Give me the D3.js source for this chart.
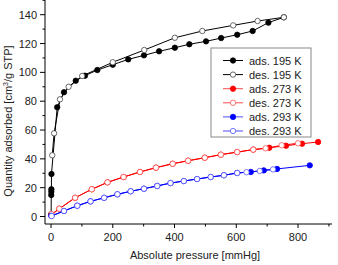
<!DOCTYPE html>
<html><head><meta charset="utf-8">
<script src="https://cdn.jsdelivr.net/npm/d3@7"></script>
<style>body{margin:0;background:#fff}svg{display:block}text{font-family:Arial,"Liberation Sans",sans-serif;}</style>
</head><body>
<svg id="c" width="338" height="265"></svg>
<script>
const xTicks = [0, 200, 400, 600, 800];
const yTicks = [0, 20, 40, 60, 80, 100, 120, 140];
const seriesNames = ["ads. 195 K", "des. 195 K", "ads. 273 K", "des. 273 K", "ads. 293 K", "des. 293 K"];
const seriesColors = ["#000000", "#000000", "#ff0000", "#ff0000", "#0000ff", "#0000ff"];
const seriesFilled = [true, false, true, false, true, false];

const ads195 = [[0.3,1.5],[0.8,14.9],[1,17.2],[1.2,18.9],[1.5,29.5],[20,75.8],[42,86.2],[80,94.2],[110,97.7],[150,101.6],[200,105.3],[250,109],[301,111.8],[350,114.6],[401,117.1],[448,119.5],[502,121.5],[551,123.8],[603,126.1],[653,128.7],[704,134.5],[754,138.2]];
const des195 = [[754,138.2],[669,135.6],[590,132.6],[490,128.7],[401,124],[302,115.5],[200,107],[101,97.5],[57,90],[29,81.3],[10,57.7],[4,42.5]];
const ads273 = [[1,1.0],[27,5.4],[78,13],[132,18.9],[183,23.7],[235,27.4],[288,30.9],[340,33.9],[394,36.6],[444,38.7],[498,40.8],[550,42.9],[603,44.7],[655,46.4],[707,47.7],[761,49.1],[813,50.5],[865,51.7]];
const des273 = [[800,50.8],[747,49.4],[695,47.3],[655,46.4],[603,44.7],[550,42.9],[498,40.8],[444,38.7],[394,36.6],[340,33.9],[288,30.9],[235,27.4],[183,23.7],[132,18.9],[78,13],[27,5.4],[2,1.7]];
const ads293 = [[1,0.5],[42,3.8],[85,7.5],[128,10.5],[172,13],[215,15.4],[258,17.5],[301,19.3],[344,21.2],[387,23.2],[430,24.6],[473,26],[517,27.4],[560,28.6],[603,30.2],[647,30.9],[689,32],[732,33],[838,35.5]];
const des293 = [[719,32.7],[676,31.6],[633,30.7],[603,30.2],[560,28.6],[517,27.4],[473,26],[430,24.6],[387,23.2],[344,21.2],[301,19.3],[258,17.5],[215,15.4],[172,13],[128,10.5],[85,7.5],[42,3.8],[2,0.3]];
const allSeries = [ads195, des195, ads273, des273, ads293, des293];

const svg = d3.select("#c");
const x = d3.scaleLinear().domain([-19.5, 910]).range([45, 332]);
const y = d3.scaleLinear().domain([-5.2, 150.2]).range([224, 0]);

// axes
const xAxis = svg.append("g").attr("transform", "translate(0,224)");
xAxis.append("line").attr("x1", 45).attr("x2", 332).attr("stroke", "#000");
const xMinor = d3.range(100, 1000, 200);
xAxis.selectAll(".xt").data(xTicks).enter().append("line")
  .attr("x1", d => x(d)).attr("x2", d => x(d)).attr("y1", 0).attr("y2", 4).attr("stroke", "#000");
xAxis.selectAll(".xm").data(xMinor).enter().append("line")
  .attr("x1", d => x(d)).attr("x2", d => x(d)).attr("y1", 0).attr("y2", 2.5).attr("stroke", "#000");
xAxis.selectAll(".xl").data(xTicks).enter().append("text")
  .attr("x", d => x(d)).attr("y", 17).attr("text-anchor", "middle").attr("font-size", 11).attr("fill", "#222").text(d => d);

const yAxis = svg.append("g");
yAxis.append("line").attr("x1", 45).attr("x2", 45).attr("y1", 0).attr("y2", 224).attr("stroke", "#000");
const yMinor = d3.range(10, 160, 20);
yAxis.selectAll(".yt").data(yTicks).enter().append("line")
  .attr("x1", 40).attr("x2", 45).attr("y1", d => y(d)).attr("y2", d => y(d)).attr("stroke", "#000");
yAxis.selectAll(".ym").data(yMinor).enter().append("line")
  .attr("x1", 42.5).attr("x2", 45).attr("y1", d => y(d)).attr("y2", d => y(d)).attr("stroke", "#000");
yAxis.selectAll(".yl").data(yTicks).enter().append("text")
  .attr("x", 37).attr("y", d => y(d) + 4).attr("text-anchor", "end").attr("font-size", 11).attr("fill", "#222").text(d => d);

// axis titles
svg.append("text").attr("x", 195).attr("y", 259).attr("text-anchor", "middle").attr("font-size", 11).attr("fill", "#222")
  .text("Absolute pressure [mmHg]");
const yt = svg.append("text").attr("transform", "translate(12,121) rotate(-90)").attr("text-anchor", "middle")
  .attr("font-size", 11).attr("fill", "#222");
yt.append("tspan").text("Quantity adsorbed [cm");
yt.append("tspan").attr("font-size", 7).attr("dy", -4).text("3");
yt.append("tspan").attr("dy", 4).text("/g STP]");

// series
const line = d3.line().x(d => x(d[0])).y(d => y(d[1]));
const plot = svg.append("g");
allSeries.forEach((data, i) => {
  const g = plot.append("g");
  g.append("path").attr("d", line(data)).attr("fill", "none").attr("stroke", seriesColors[i]).attr("stroke-width", 1);
  g.selectAll("circle").data(data).enter().append("circle")
    .attr("cx", d => x(d[0])).attr("cy", d => y(d[1])).attr("r", 2.7)
    .attr("fill", seriesFilled[i] ? seriesColors[i] : "#fff")
    .attr("stroke", seriesFilled[i] ? seriesColors[i] : (i === 5 ? "#5555ff" : (i === 3 ? "#ff5555" : "#444")))
    .attr("stroke-width", 0.8);
});

// legend
const lg = svg.append("g");
lg.append("rect").attr("x", 211).attr("y", 48).attr("width", 100).attr("height", 89)
  .attr("fill", "#fff").attr("stroke", "#888").attr("stroke-width", 1);
seriesNames.forEach((name, i) => {
  const yy = 60.5 + i * 14.1;
  lg.append("line").attr("x1", 223).attr("x2", 243).attr("y1", yy).attr("y2", yy)
    .attr("stroke", seriesColors[i]).attr("stroke-width", 1).attr("stroke-opacity", i >= 2 ? 0.7 : 1);
  lg.append("circle").attr("cx", 233).attr("cy", yy).attr("r", 2.7)
    .attr("fill", seriesFilled[i] ? seriesColors[i] : "#fff")
    .attr("stroke", seriesFilled[i] ? seriesColors[i] : (i === 5 ? "#5555ff" : (i === 3 ? "#ff5555" : "#444")))
    .attr("stroke-width", 0.8);
  lg.append("text").attr("x", 249).attr("y", yy + 4).attr("font-size", 11).attr("fill", "#222").text(name);
});
</script>
</body></html>
